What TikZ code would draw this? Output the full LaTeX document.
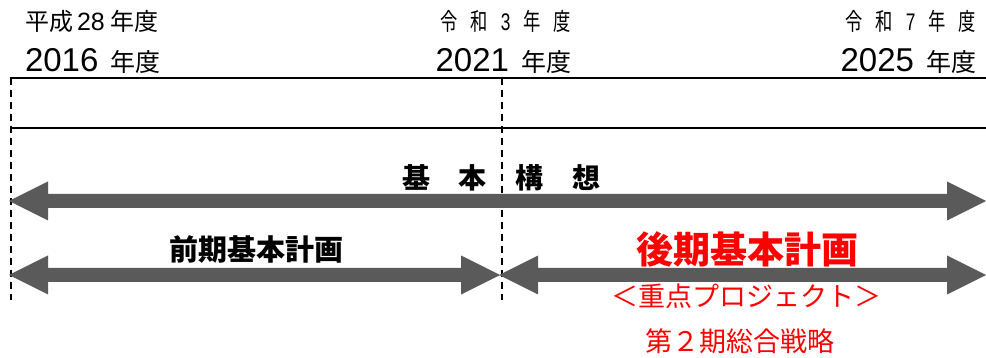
\documentclass[tikz,border=0pt]{standalone}
\usepackage{fontspec}
\usepackage{graphicx}
\setmainfont{Noto Sans CJK JP}
\newfontfamily\digitfont{Liberation Sans}
\usetikzlibrary{calc}
\definecolor{arrowgray}{HTML}{5A5A5A}
\definecolor{planred}{HTML}{FF0000}
\newcommand{\cnd}[1]{\scalebox{0.72}[1]{#1}}
\newcommand{\fsz}[1]{\fontsize{#1}{#1}\selectfont}
\newcommand{\dblarrow}[2]{%
  \fill[arrowgray] (#1) -- ($(#1)+(39,-19.5)$) -- ($(#1)+(39,-7)$) -- ($(#2)+(-39,-7)$)
    -- ($(#2)+(-39,-19.5)$) -- (#2) -- ($(#2)+(-39,19.5)$) -- ($(#2)+(-39,7)$)
    -- ($(#1)+(39,7)$) -- ($(#1)+(39,19.5)$) -- cycle;}
\begin{document}
\begin{tikzpicture}[x=1pt,y=-1pt,
  lbl/.style={inner sep=0pt, outer sep=0pt},
  rule/.style={line width=2.2pt, black},
  divider/.style={line width=1.8pt, black, dash pattern=on 7pt off 5pt},
  boldlbl/.style={lbl, font=\bfseries},
  redlbl/.style={lbl, text=planred}]
\useasboundingbox (0,0) rectangle (986,358);
% headers
\node[lbl, anchor=base west] (h1a) at (25,31) {\fsz{24}平成\hspace{4pt}{\digitfont\fsz{25}28}\hspace{6pt}年度};
\node[lbl, anchor=base west] (h1b) at (25,72) {{\digitfont\fsz{33}2016}\hspace{12pt}\fsz{25}年度};
\node[lbl, anchor=base east] (h2a) at (571,31) {\fsz{24}\cnd{令}\hspace{13pt}\cnd{和}\hspace{13pt}{\digitfont\cnd{3}}\hspace{13pt}\cnd{年}\hspace{13pt}\cnd{度}};
\node[lbl, anchor=base east] (h2b) at (571,72) {{\digitfont\fsz{33}2021}\hspace{12pt}\fsz{25}年度};
\node[lbl, anchor=base east] (h3a) at (976,31) {\fsz{24}\cnd{令}\hspace{13pt}\cnd{和}\hspace{13pt}{\digitfont\cnd{7}}\hspace{13pt}\cnd{年}\hspace{13pt}\cnd{度}};
\node[lbl, anchor=base east] (h3b) at (976,72) {{\digitfont\fsz{33}2025}\hspace{12pt}\fsz{25}年度};
% rules
\coordinate (r1a) at (10,78);  \coordinate (r1b) at (986,78);
\coordinate (r2a) at (10,128); \coordinate (r2b) at (986,128);
\draw[rule] (r1a) -- (r1b);
\draw[rule] (r2a) -- (r2b);
% dividers
\coordinate (d1a) at (11,78);  \coordinate (d1b) at (11,300);
\coordinate (d2a) at (502,78); \coordinate (d2b) at (502,300);
\draw[divider] (d1a) -- (d1b);
\draw[divider] (d2a) -- (d2b);
% arrows
\coordinate (k1) at (9,201);   \coordinate (k2) at (986,201);
\coordinate (z1) at (9,275);   \coordinate (z2) at (500,275);
\coordinate (g1) at (499,275); \coordinate (g2) at (986,275);
\dblarrow{k1}{k2}
\dblarrow{z1}{z2}
\dblarrow{g1}{g2}
% labels
\node[boldlbl] (kihon) at (501.5,177.5) {\fsz{28}基\hspace{29pt}本\hspace{29pt}構\hspace{29pt}想};
\node[boldlbl] (zenki) at (256.5,249.5) {\fsz{29}前期基本計画};
\node[boldlbl, text=planred] (kouki) at (747.5,249.5) {\fsz{37}後期基本計画};
\node[redlbl] (juten) at (746,296.5) {\fsz{27}＜重点プロジェクト＞};
\node[redlbl] (senryaku) at (739.5,341.5) {\fsz{27}第２期総合戦略};
\end{tikzpicture}
\end{document}
